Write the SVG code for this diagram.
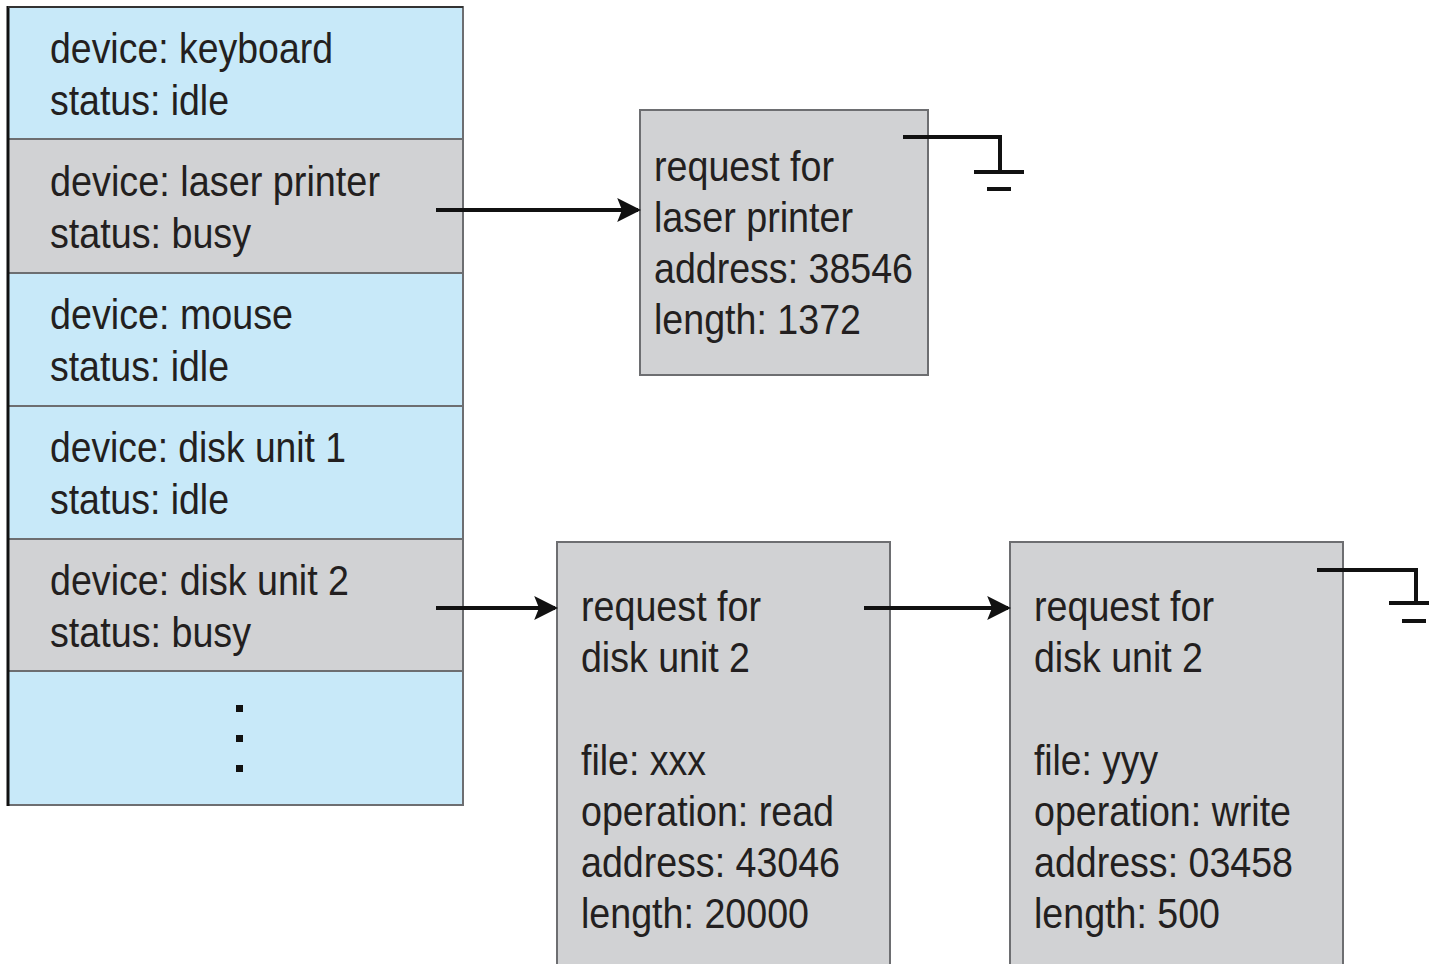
<svg xmlns="http://www.w3.org/2000/svg" width="1429" height="964" viewBox="0 0 1429 964">
<style>
.t{font-family:"Liberation Sans",Arial,sans-serif;font-size:43px;fill:#231f20}
.blue{fill:#c8e9f9;stroke:#6d6e71;stroke-width:2}
.gray{fill:#d1d2d4;stroke:#6d6e71;stroke-width:2}
.ln{stroke:#111;stroke-width:4;fill:none}
.gnd{stroke:#111;stroke-width:4;fill:none}
</style>
<defs>
<marker id="ah" markerWidth="6" markerHeight="6" refX="5.2" refY="3" orient="auto" markerUnits="strokeWidth">
<path d="M0,0 L6,3 L0,6 L1.2,3 Z" fill="#111"/>
</marker>
</defs>
<rect x="0" y="0" width="1429" height="964" fill="#fff"/>
<g id="device-table">
<g id="row-keyboard">
<rect class="blue" x="8" y="7" width="455" height="132"/>
<text class="t" x="50" y="63" textLength="283" lengthAdjust="spacingAndGlyphs">device: keyboard</text>
<text class="t" x="50" y="115" textLength="179" lengthAdjust="spacingAndGlyphs">status: idle</text>
</g>
<g id="row-laser-printer">
<rect class="gray" x="8" y="139" width="455" height="134"/>
<text class="t" x="50" y="196" textLength="330" lengthAdjust="spacingAndGlyphs">device: laser printer</text>
<text class="t" x="50" y="248" textLength="201" lengthAdjust="spacingAndGlyphs">status: busy</text>
</g>
<g id="row-mouse">
<rect class="blue" x="8" y="273" width="455" height="133"/>
<text class="t" x="50" y="329" textLength="243" lengthAdjust="spacingAndGlyphs">device: mouse</text>
<text class="t" x="50" y="381" textLength="179" lengthAdjust="spacingAndGlyphs">status: idle</text>
</g>
<g id="row-disk1">
<rect class="blue" x="8" y="406" width="455" height="133"/>
<text class="t" x="50" y="462" textLength="296" lengthAdjust="spacingAndGlyphs">device: disk unit 1</text>
<text class="t" x="50" y="514" textLength="179" lengthAdjust="spacingAndGlyphs">status: idle</text>
</g>
<g id="row-disk2">
<rect class="gray" x="8" y="539" width="455" height="132"/>
<text class="t" x="50" y="595" textLength="299" lengthAdjust="spacingAndGlyphs">device: disk unit 2</text>
<text class="t" x="50" y="647" textLength="201" lengthAdjust="spacingAndGlyphs">status: busy</text>
</g>
<g id="row-more">
<rect class="blue" x="8" y="671" width="455" height="134"/>
<rect x="236" y="705" width="7" height="7" fill="#111"/>
<rect x="236" y="735" width="7" height="7" fill="#111"/>
<rect x="236" y="765" width="7" height="7" fill="#111"/>
</g>
<line x1="8" y1="6" x2="8" y2="806" stroke="#111" stroke-width="3"/>
<line x1="8" y1="7" x2="463" y2="7" stroke="#333" stroke-width="2"/>
</g>
<g id="req-laser">
<rect class="gray" x="640" y="110" width="288" height="265"/>
<text class="t" x="654" y="181" textLength="180" lengthAdjust="spacingAndGlyphs">request for</text>
<text class="t" x="654" y="232" textLength="199" lengthAdjust="spacingAndGlyphs">laser printer</text>
<text class="t" x="654" y="283" textLength="259" lengthAdjust="spacingAndGlyphs">address: 38546</text>
<text class="t" x="654" y="334" textLength="207" lengthAdjust="spacingAndGlyphs">length: 1372</text>
</g>
<g id="req-disk-read">
<rect class="gray" x="557" y="542" width="333" height="430"/>
<text class="t" x="581" y="621" textLength="180" lengthAdjust="spacingAndGlyphs">request for</text>
<text class="t" x="581" y="672" textLength="169" lengthAdjust="spacingAndGlyphs">disk unit 2</text>
<text class="t" x="581" y="775" textLength="125" lengthAdjust="spacingAndGlyphs">file: xxx</text>
<text class="t" x="581" y="826" textLength="253" lengthAdjust="spacingAndGlyphs">operation: read</text>
<text class="t" x="581" y="877" textLength="259" lengthAdjust="spacingAndGlyphs">address: 43046</text>
<text class="t" x="581" y="928" textLength="228" lengthAdjust="spacingAndGlyphs">length: 20000</text>
</g>
<g id="req-disk-write">
<rect class="gray" x="1010" y="542" width="333" height="430"/>
<text class="t" x="1034" y="621" textLength="180" lengthAdjust="spacingAndGlyphs">request for</text>
<text class="t" x="1034" y="672" textLength="169" lengthAdjust="spacingAndGlyphs">disk unit 2</text>
<text class="t" x="1034" y="775" textLength="124" lengthAdjust="spacingAndGlyphs">file: yyy</text>
<text class="t" x="1034" y="826" textLength="257" lengthAdjust="spacingAndGlyphs">operation: write</text>
<text class="t" x="1034" y="877" textLength="259" lengthAdjust="spacingAndGlyphs">address: 03458</text>
<text class="t" x="1034" y="928" textLength="186" lengthAdjust="spacingAndGlyphs">length: 500</text>
</g>
<g id="connectors">
<line class="ln" x1="436" y1="210" x2="638" y2="210" marker-end="url(#ah)"/>
<line class="ln" x1="436" y1="608" x2="555" y2="608" marker-end="url(#ah)"/>
<line class="ln" x1="864" y1="608" x2="1008" y2="608" marker-end="url(#ah)"/>
<path class="gnd" d="M903,137 H1000 V172"/>
<line class="gnd" x1="974" y1="172" x2="1024" y2="172"/>
<line class="gnd" x1="987" y1="189" x2="1011" y2="189"/>
<path class="gnd" d="M1317,570 H1416 V603"/>
<line class="gnd" x1="1389" y1="603" x2="1429" y2="603"/>
<line class="gnd" x1="1402" y1="621" x2="1426" y2="621"/>
</g>
</svg>
